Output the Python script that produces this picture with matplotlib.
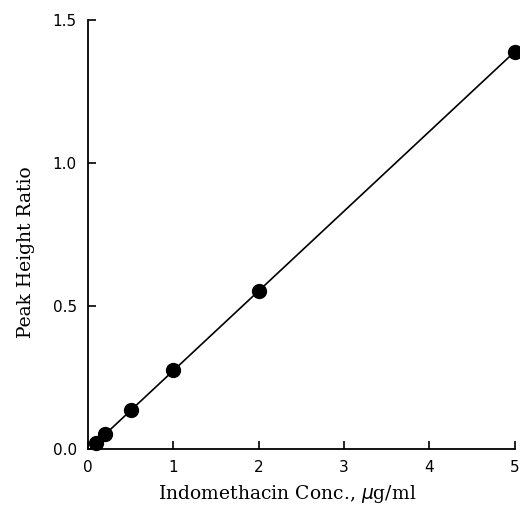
import numpy as np
import matplotlib
matplotlib.use("Agg")
import matplotlib.pyplot as plt

conc = [0.1, 0.2, 0.5, 1.0, 2.0, 5.0]
ratio = [0.02, 0.052, 0.135, 0.275, 0.552, 1.39]
xticks = [0, 1, 2, 3, 4, 5]
yticks = [0.0, 0.5, 1.0, 1.5]
ytick_labels = ["0.0", "0.5", "1.0", "1.5"]

fig = plt.figure(figsize=(5.2, 5.05), dpi=100)
ax = fig.add_axes([0.169, 0.111, 0.821, 0.849])

slope, intercept = np.polyfit(conc, ratio, 1)
xl = np.array([min(conc), max(conc)])
ax.plot(xl, slope * xl + intercept, color="black", lw=1.2, clip_on=False)
ax.plot(conc, ratio, "o", color="black", markersize=10, clip_on=False, zorder=3)

ax.set_xlim(0, 5)
ax.set_ylim(0, 1.5)
ax.set_xticks(xticks)
ax.set_yticks(yticks)
ax.set_yticklabels(ytick_labels)
ax.spines["top"].set_visible(False)
ax.spines["right"].set_visible(False)
ax.spines["left"].set_linewidth(1.3)
ax.spines["bottom"].set_linewidth(1.3)
ax.tick_params(direction="in", length=6, width=1.2, labelsize=11, pad=8)
for lab in ax.get_xticklabels() + ax.get_yticklabels():
    lab.set_family("DejaVu Sans")

ax.set_xlabel("Indomethacin Conc., $\\mathit{\\mu}$g/ml", family="DejaVu Serif",
              fontsize=13.5, labelpad=6)
ax.set_ylabel("Peak Height Ratio", family="DejaVu Serif", fontsize=13.5, labelpad=13)
ax.xaxis.label.set_x(0.466)
ax.yaxis.label.set_y(0.46)

fig.savefig("out.png", dpi=100)
